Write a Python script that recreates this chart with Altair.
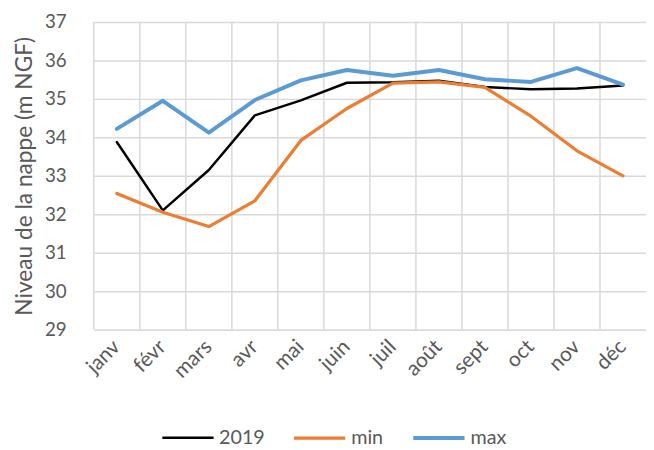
import altair as alt
import pandas as pd

months = ["janv", "févr", "mars", "avr", "mai", "juin", "juil", "août", "sept", "oct", "nov", "déc"]
y2019 = [33.88, 32.10, 33.15, 34.57, 34.96, 35.42, 35.43, 35.47, 35.31, 35.25, 35.27, 35.35]
ymin = [32.54, 32.05, 31.68, 32.35, 33.92, 34.75, 35.41, 35.44, 35.30, 34.55, 33.65, 33.00]
ymax = [34.22, 34.95, 34.12, 34.97, 35.48, 35.75, 35.60, 35.75, 35.51, 35.44, 35.80, 35.37]
series = ["2019", "min", "max"]
colors = ["#000000", "#ED7D31", "#5B9BD5"]
widths = [2.5, 4, 4]

rows = []
for name, vals in zip(series, [y2019, ymin, ymax]):
    for m, v in zip(months, vals):
        rows.append({"mois": m, "niveau": v, "serie": name})
df = pd.DataFrame(rows)
grid_df = pd.DataFrame({"mois": months})

FONT = "Lato"
GREY = "#595959"
GRID = "#d9d9d9"

xscale = alt.Scale(type="band", paddingInner=0, paddingOuter=0)

rules = alt.Chart(grid_df).mark_rule(color=GRID, strokeWidth=1.5).encode(
    x=alt.X("mois:N", sort=months, scale=xscale, bandPosition=0, title=None)
)

lines = alt.Chart(df).mark_line(strokeCap="round", strokeJoin="round").encode(
    x=alt.X(
        "mois:N", sort=months, scale=xscale, bandPosition=0.5, title=None,
        axis=alt.Axis(labelAngle=-45, labelAlign="right", labelBaseline="middle",
                      labelPadding=14, labelFontSize=21, labelColor=GREY, labelFont=FONT,
                      ticks=False, grid=False, domainColor=GRID, domainWidth=1.5),
    ),
    y=alt.Y(
        "niveau:Q", scale=alt.Scale(domain=[29, 37], nice=False, zero=False),
        title="Niveau de la nappe (m NGF)",
        axis=alt.Axis(values=list(range(29, 38)), ticks=False, domain=False,
                      gridColor=GRID, gridWidth=1.5, labelFontSize=19, labelColor=GREY,
                      labelFont=FONT, labelPadding=28, titleFontSize=23, titleFont=FONT,
                      titleColor=GREY, titleFontWeight="normal", titlePadding=8),
    ),
    color=alt.Color(
        "serie:N", sort=series, scale=alt.Scale(domain=series, range=colors), title=None,
        legend=alt.Legend(orient="none", legendX=68, legendY=394, direction="horizontal",
                          symbolType="stroke", symbolSize=2700, symbolStrokeWidth=3.5,
                          labelFontSize=20, labelColor=GREY, labelFont=FONT,
                          columnPadding=22, labelOffset=4, padding=0),
    ),
    strokeWidth=alt.StrokeWidth("serie:N", sort=series,
                                scale=alt.Scale(domain=series, range=widths), legend=None),
    detail="serie:N",
)

chart = alt.layer(rules, lines).properties(
    width=560, height=312, padding={"left": 5, "top": 2, "right": 0, "bottom": 5}
).configure_view(stroke=None)

chart.save("out.html", embed_options={"renderer": "svg", "actions": False})
